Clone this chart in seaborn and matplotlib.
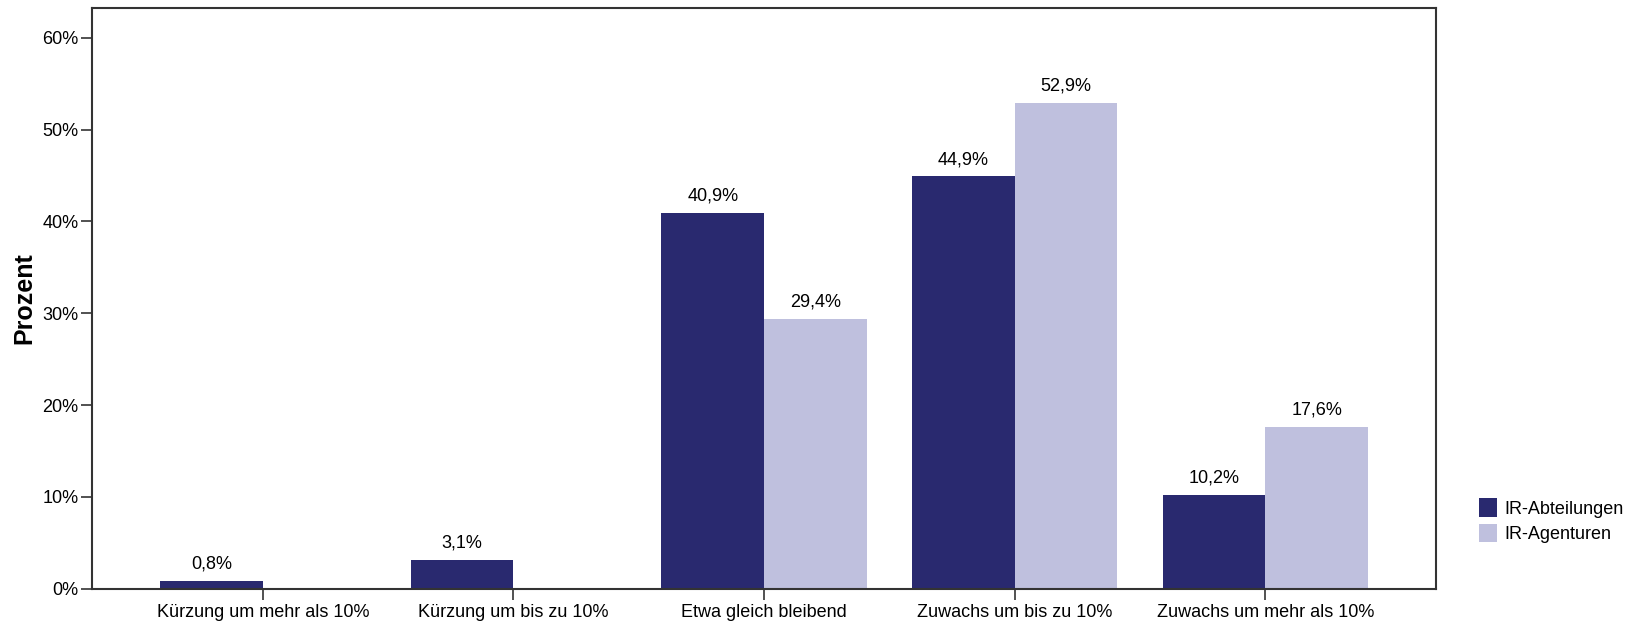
import pandas as pd
import matplotlib.pyplot as plt
import seaborn as sns

# Daten
kategorien = ["Kürzung um mehr als 10%", "Kürzung um bis zu 10%", "Etwa gleich bleibend",
              "Zuwachs um bis zu 10%", "Zuwachs um mehr als 10%"]
abteilungen = [0.8, 3.1, 40.9, 44.9, 10.2]
agenturen = [0.0, 0.0, 29.4, 52.9, 17.6]
gruppen = ["IR-Abteilungen", "IR-Agenturen"]
y_ticks = [0, 10, 20, 30, 40, 50, 60]

df = pd.DataFrame({
    "Kategorie": kategorien * 2,
    "Gruppe": [gruppen[0]] * len(kategorien) + [gruppen[1]] * len(kategorien),
    "Prozent": abteilungen + agenturen,
})

sns.set_style("white")
plt.rcParams["font.family"] = ["Liberation Sans", "DejaVu Sans"]
plt.rcParams["text.color"] = "black"
plt.rcParams["xtick.color"] = "#333333"
plt.rcParams["ytick.color"] = "#333333"
plt.rcParams["xtick.labelcolor"] = "black"
plt.rcParams["ytick.labelcolor"] = "black"

fig = plt.figure(figsize=(16.48, 6.27), dpi=100)
ax = fig.add_axes([0.0561, 0.0612, 0.8151, 0.9268])

sns.barplot(data=df, x="Kategorie", y="Prozent", hue="Gruppe", order=kategorien,
            hue_order=gruppen, palette=["#29296F", "#BFC0DE"], width=0.82,
            saturation=1, linewidth=0, ax=ax)

for cont in ax.containers:
    labels = [f"{b.get_height():.1f}%".replace(".", ",") if b.get_height() > 0 else ""
              for b in cont]
    ax.bar_label(cont, labels=labels, padding=6, fontsize=13)

ax.set_xlim(-0.68, 4.68)
ax.set_ylim(0, 63.3)
ax.set_yticks(y_ticks)
ax.set_yticklabels([f"{t}%" for t in y_ticks], fontsize=13)
ax.tick_params(axis="x", labelsize=13, direction="out", length=8, width=1.2, bottom=True, pad=3)
ax.tick_params(axis="y", direction="out", length=8, width=1.2, left=True, pad=2)
ax.set_xlabel("")
ax.set_ylabel("Prozent", fontsize=18, fontweight="bold", color="black", labelpad=4)

for s in ax.spines.values():
    s.set_color("#333333")
    s.set_linewidth(1.5)

leg = ax.legend(title=None, loc="upper left", bbox_to_anchor=(1.027, 0.168), frameon=False,
                fontsize=13, handlelength=1.0, handleheight=1.2, handletextpad=0.4,
                labelspacing=0.35, borderaxespad=0)

fig.savefig("out.png", dpi=100)
